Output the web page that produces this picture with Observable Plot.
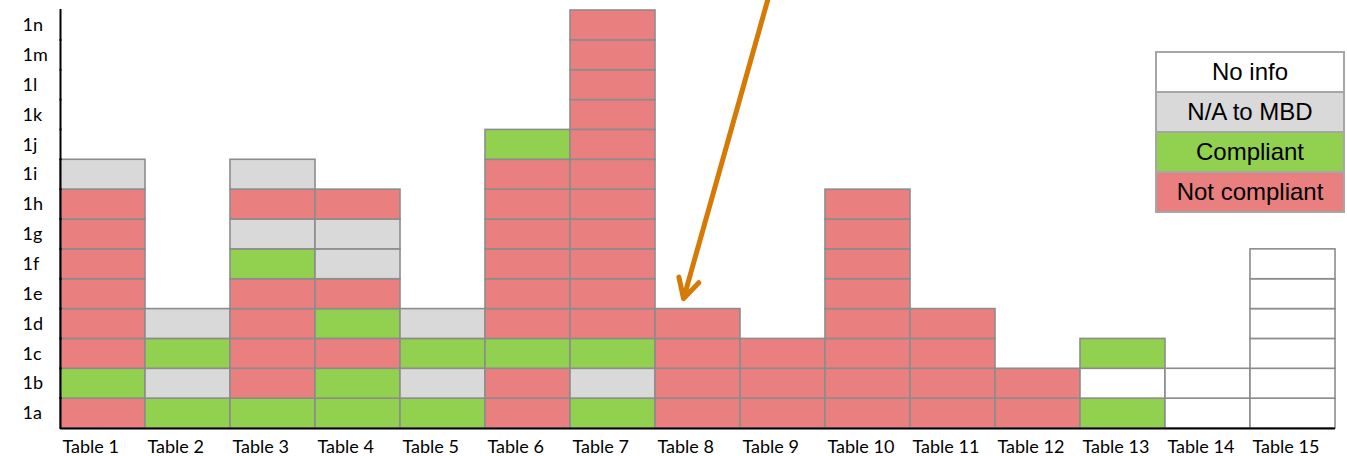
<!DOCTYPE html>
<html>
<head>
<meta charset="utf-8">
<script src="https://cdn.jsdelivr.net/npm/d3@7"></script>
<script src="https://cdn.jsdelivr.net/npm/@observablehq/plot@0.6"></script>
<style>
  body { margin: 0; background: #fff; }
  #wrap { position: relative; width: 1347px; height: 456px; overflow: hidden; }
  #legend { position: absolute; left: 1155px; top: 51px; width: 186px; border: 2px solid #a6a6a6; font-family: "Liberation Sans", Arial, sans-serif; font-size: 24px; }
  #legend div { height: 38px; line-height: 38px; text-align: center; color: #000; }
  #legend div + div { border-top: 2px solid #a6a6a6; }
</style>
</head>
<body>
<div id="wrap"></div>
<script>
// Categories
const tables = ["Table 1","Table 2","Table 3","Table 4","Table 5","Table 6","Table 7","Table 8","Table 9","Table 10","Table 11","Table 12","Table 13","Table 14","Table 15"];
const rows = ["1a","1b","1c","1d","1e","1f","1g","1h","1i","1j","1k","1l","1m","1n"];
const statuses = ["No info","N/A to MBD","Compliant","Not compliant"];
const statusColors = ["#ffffff","#d9d9d9","#92d050","#e97f7f"];

// Per-table status, bottom (1a) upward. W = No info, G = N/A to MBD, C = Compliant, N = Not compliant
const table1  = ["N","C","N","N","N","N","N","N","G"];
const table2  = ["C","G","C","G"];
const table3  = ["C","N","N","N","N","C","G","N","G"];
const table4  = ["C","C","N","C","N","G","G","N"];
const table5  = ["C","G","C","G"];
const table6  = ["N","N","C","N","N","N","N","N","N","C"];
const table7  = ["C","G","C","N","N","N","N","N","N","N","N","N","N","N"];
const table8  = ["N","N","N","N"];
const table9  = ["N","N","N"];
const table10 = ["N","N","N","N","N","N","N","N"];
const table11 = ["N","N","N","N"];
const table12 = ["N","N"];
const table13 = ["C","W","C"];
const table14 = ["W","W"];
const table15 = ["W","W","W","W","W","W"];
const codeNames = {W: "No info", G: "N/A to MBD", C: "Compliant", N: "Not compliant"};

// Annotation arrow (in table/row units)
const arrowStart = [8.33, 14.45];
const arrowEnd = [7.33, 4.35];

const columns = [table1,table2,table3,table4,table5,table6,table7,table8,table9,table10,table11,table12,table13,table14,table15];
const cells = columns.flatMap((col, i) => col.map((c, j) => ({x1: i, x2: i + 1, y1: j, y2: j + 1, status: codeNames[c]})));

const chart = Plot.plot({
  width: 1347,
  height: 456,
  marginLeft: 60,
  marginRight: 12,
  marginTop: 10,
  marginBottom: 28,
  x: {domain: [0, tables.length], axis: null},
  y: {domain: [0, rows.length], axis: null},
  color: {domain: statuses, range: statusColors},
  style: {fontFamily: "Lato, sans-serif", fontSize: "18px", background: "white", color: "#000", overflow: "visible"},
  marks: [
    Plot.rect(cells, {x1: "x1", x2: "x2", y1: "y1", y2: "y2", fill: "status", stroke: "#8c8c8c", strokeWidth: 1.6}),
    Plot.ruleX(d3.range(rows.length), {x: 0, y1: d => d, y2: d => d + 1, insetTop: 1, insetBottom: 1, stroke: "#000", strokeWidth: 2}),
    Plot.ruleY([0], {x1: 0, x2: tables.length, stroke: "#000", strokeWidth: 2}),
    Plot.axisX(d3.range(tables.length), {tickFormat: i => tables[i], textAnchor: "start", dx: 2, tickSize: 0, tickPadding: 12, fill: "#000"}),
    Plot.axisY(d3.range(rows.length).map(j => j + 0.5), {tickFormat: (d, i) => rows[i], textAnchor: "start", dx: -38, tickSize: 0, tickPadding: 0, fill: "#000"}),
    Plot.arrow([{x1: arrowStart[0], y1: arrowStart[1], x2: arrowEnd[0], y2: arrowEnd[1]}], {x1: "x1", y1: "y1", x2: "x2", y2: "y2", stroke: "#d67a06", strokeWidth: 5, headAngle: 56, headLength: 6.6})
  ]
});

const wrap = document.getElementById("wrap");
wrap.appendChild(chart);
const legend = document.createElement("div");
legend.id = "legend";
const legendOrder = ["No info","N/A to MBD","Compliant","Not compliant"];
for (const s of legendOrder) {
  const row = document.createElement("div");
  row.textContent = s;
  row.style.background = statusColors[statuses.indexOf(s)];
  legend.appendChild(row);
}
wrap.appendChild(legend);
</script>
</body>
</html>
